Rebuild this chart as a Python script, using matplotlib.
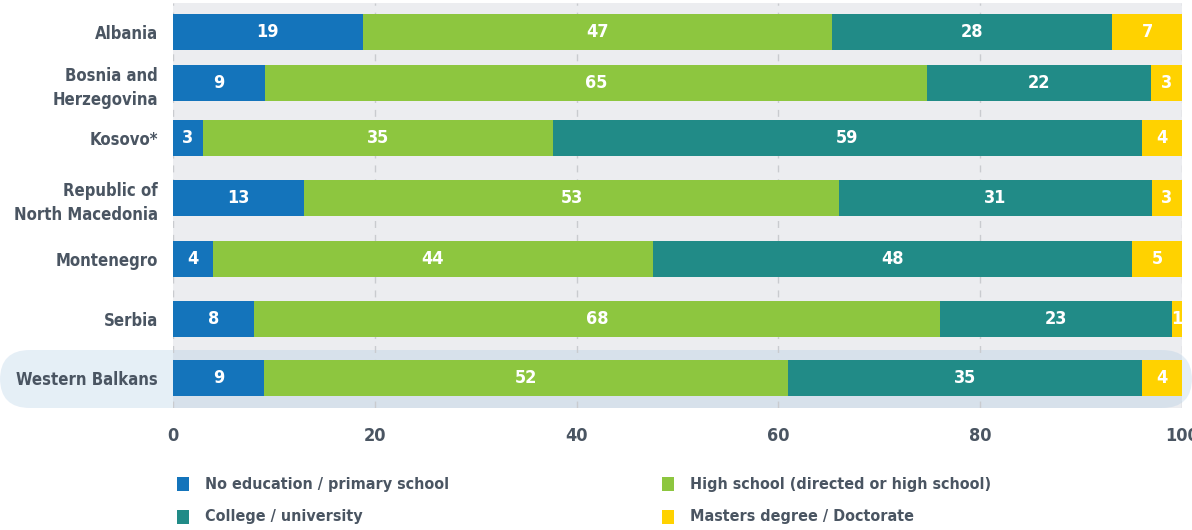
import numpy as np
import matplotlib
matplotlib.use("Agg")
import matplotlib.pyplot as plt
from matplotlib.patches import FancyBboxPatch, Rectangle

plt.rcParams['font.family'] = ['DejaVu Sans']
plt.rcParams['font.stretch'] = 'condensed'

countries = ["Albania", "Bosnia and\nHerzegovina", "Kosovo*", "Republic of\nNorth Macedonia",
             "Montenegro", "Serbia", "Western Balkans"]
series = ["No education / primary school", "High school (directed or high school)",
          "College / university", "Masters degree / Doctorate"]
no_education = [19, 9, 3, 13, 4, 8, 9]
high_school = [47, 65, 35, 53, 44, 68, 52]
college = [28, 22, 59, 31, 48, 23, 35]
masters = [7, 3, 4, 3, 5, 1, 4]
ticks = [0, 20, 40, 60, 80, 100]

colors = ["#1474bb", "#8dc63f", "#218b87", "#ffd200"]
label_color = "#4a5562"

values = np.array([no_education, high_school, college, masters], dtype=float)
shares = values / values.sum(axis=0) * 100  # bars stretched to 100 %

W, H = 1192, 530
top, bottom = 3, 408
# row centres in pixels from the top of the figure (layout only)
row_px = [32, 83, 138, 198, 259, 319, 378]

fig = plt.figure(figsize=(W / 100, H / 100), dpi=100)
ax = fig.add_axes([173 / W, (H - bottom) / H, (1182 - 173) / W, (bottom - top) / H])
ax.set_facecolor("#ecedf0")

ypos = np.array(row_px, dtype=float)
left = np.zeros(len(countries))
for i in range(len(series)):
    ax.barh(ypos, shares[i], left=left, height=36, color=colors[i], zorder=3)
    for y, l, w, v in zip(ypos, left, shares[i], values[i]):
        ax.text(l + w / 2, y, "%d" % v, ha="center", va="center", color="white",
                fontsize=13, fontweight="bold", zorder=4)
    left += shares[i]

ax.set_xlim(0, 100)
ax.set_ylim(bottom, top)
ax.set_xticks(ticks)
ax.set_xticklabels([str(t) for t in ticks], fontsize=13, fontweight="bold", color=label_color)
ax.set_yticks(ypos)
ax.set_yticklabels(countries, fontsize=12, fontweight="bold", color=label_color,
                   linespacing=1.45)
for lab in ax.get_yticklabels():
    if "\n" in lab.get_text():
        lab.set_y(lab.get_position()[1])
        lab.set_transform(lab.get_transform() + matplotlib.transforms.ScaledTranslation(0, -6 / 100, fig.dpi_scale_trans))
ax.tick_params(length=0, axis="x", pad=14)
ax.tick_params(length=0, axis="y", pad=11)
for s in ax.spines.values():
    s.set_visible(False)
ax.xaxis.grid(True, linestyle=(0, (5, 5)), color="#c9cbcf", linewidth=1)
ax.set_axisbelow(True)

# highlight band behind the Western Balkans row
band = FancyBboxPatch((0, (H - 408) / H), 1, (408 - 350) / H,
                      boxstyle="round,pad=0,rounding_size=0.025",
                      transform=fig.transFigure, facecolor="#a2c4e1", alpha=0.27,
                      edgecolor="none", zorder=0.4, clip_on=False, mutation_aspect=W / H)
ax.add_patch(band)

# legend
leg_pos = [(183, 484), (668, 484), (183, 517), (668, 517)]
for (x, y), name, c in zip(leg_pos, series, colors):
    fig.patches.append(Rectangle(((x - 6) / W, (H - y - 7) / H), 12 / W, 14 / H,
                                 transform=fig.transFigure, facecolor=c, edgecolor="none"))
    fig.text((x + 22) / W, (H - y) / H, name, ha="left", va="center",
             fontsize=11.5, fontweight="bold", color=label_color)

fig.savefig("out.png", dpi=100)
